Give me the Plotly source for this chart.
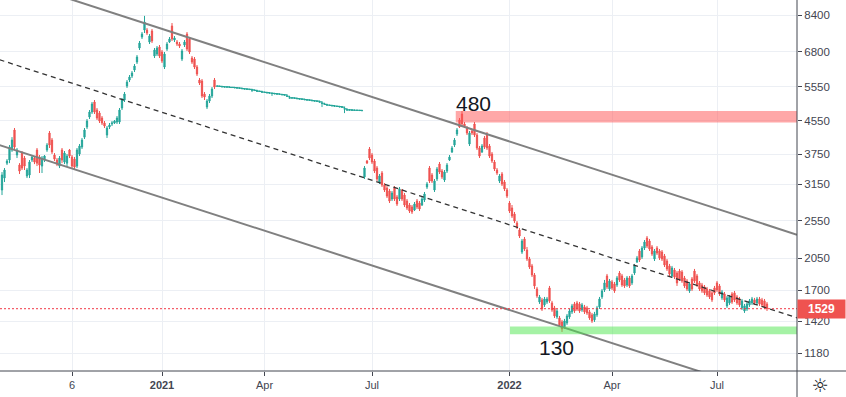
import math
import plotly.graph_objects as go

# ---------------- data ----------------
x_tick_pos = [28, 64, 105, 148, 203, 244, 286]
x_tick_text = ["6", "<b>2021</b>", "Apr", "Jul", "<b>2022</b>", "Apr", "Jul"]
y_ticks = [1180, 1420, 1700, 2050, 2550, 3150, 3750, 4550, 5550, 6800, 8400]

open_ = [
    3046, 3265, 3560, 3625, 3842, 4315, 3732, 3521, 3775, 3667,
    3304, 3323, 3625, 3667, 3842, 3690, 3500, 3625, 3842, 4240,
    4071, 3732, 3625, 3500, 3842, 3583, 3560, 3842, 3690, 3645,
    3500, 3754, 3910, 4140, 4390, 4653, 4790, 5077, 4846, 4762,
    4626, 4494, 4191, 4390, 4468, 4494, 4520, 4520, 4903, 5136,
    5571, 5768, 5904, 6113, 6403, 6946, 7404, 7711, 7711, 7192,
    7667, 6630, 6708, 6987, 6787, 6220, 6906, 7192, 7892, 7276,
    7192, 7109, 6516, 7068, 7533, 7318, 6554, 6516, 6220, 5768,
    5735, 5318, 4931, 5106, 5256, 5768,
    5566, 5556, 5546, 5541, 5536, 5526, 5521, 5516, 5506, 5496,
    5486, 5476, 5466, 5456, 5441, 5426, 5406, 5396, 5376, 5366,
    5356, 5346, 5336, 5326, 5316, 5306, 5296, 5286, 5246, 5196,
    5196, 5186, 5176, 5166, 5156, 5146, 5136, 5126, 5116, 5106,
    5096, 5076, 5036, 5006, 4986, 4976, 4966, 4956, 4946, 4936,
    4926, 4876, 4846, 4846, 4841, 4836, 4836, 4831, 4826,
    3285, 3604, 3864, 3732, 3604, 3461, 3191, 3362, 3135, 3081,
    3028, 2891, 3081, 2924, 2891, 3046, 2958, 2857, 2792, 2760,
    2712, 2857, 2824, 2792, 2874, 3099, 3461, 3323, 3046, 3247,
    3542, 3401, 3228, 3401, 3625, 3798, 3955, 4216, 4573, 4735,
    4468, 4365, 3978, 4290, 4468, 4191, 3887, 3798, 4119, 4216,
    3932, 3754, 3583, 3421, 3209, 3342, 3191, 3046, 2824, 2744,
    2650, 2515, 2415, 2125, 2292, 2150, 2041, 1960, 1860, 1715,
    1590, 1609, 1563, 1590, 1725, 1581, 1536, 1458, 1449, 1416,
    1376, 1408, 1458, 1501, 1572, 1581, 1572, 1518, 1545, 1536,
    1501, 1475, 1433, 1475, 1545, 1637, 1705, 1849, 1715, 1786,
    1765, 1755, 1881, 1849, 1807, 1755, 1828, 1776, 1881, 2006,
    2138, 2065, 2175, 2305, 2265, 2188, 2041, 2175, 2138, 2125,
    2077, 2017, 1960, 1849, 1914, 1881, 1903, 1892, 1828, 1796,
    1695, 1817, 1903, 1849, 1776, 1755, 1735, 1715, 1695, 1676,
    1725, 1776, 1745, 1628, 1666, 1554, 1581, 1666, 1676, 1637,
    1618, 1536, 1509, 1527, 1563, 1581, 1609, 1581, 1618, 1609,
    1600, 1572,
]

high = [
    3380, 3460, 3645, 3955, 4140, 4365, 3887, 3560, 3820, 3710,
    3460, 3625, 3732, 3690, 3887, 3732, 3710, 3732, 4000, 4290,
    4120, 3775, 3667, 3710, 3887, 3820, 3754, 3865, 3732, 3690,
    3887, 3978, 4120, 4365, 4600, 4846, 5077, 5136, 4903, 4818,
    4680, 4546, 4416, 4494, 4546, 4573, 4680, 4903, 5196, 5380,
    5768, 5938, 6078, 6330, 6669, 7235, 7622, 8370, 7800, 7533,
    7756, 6946, 7027, 7068, 6866, 6787, 7192, 7404, 8030, 7447,
    7276, 7192, 6906, 7276, 7622, 7404, 6630, 6592, 6293, 5835,
    5802, 5380, 5166, 5318, 5538, 5835,
    5572, 5562, 5552, 5547, 5542, 5532, 5527, 5522, 5512, 5502,
    5492, 5482, 5472, 5462, 5447, 5432, 5412, 5402, 5382, 5372,
    5362, 5352, 5342, 5332, 5322, 5312, 5302, 5292, 5252, 5202,
    5202, 5192, 5182, 5172, 5162, 5152, 5142, 5132, 5122, 5112,
    5102, 5082, 5042, 5012, 4992, 4982, 4972, 4962, 4952, 4942,
    4932, 4882, 4852, 4852, 4847, 4842, 4842, 4837, 4832,
    3501, 3625, 3909, 3776, 3646, 3501, 3342, 3401, 3172, 3117,
    3064, 3028, 3117, 2958, 3099, 3064, 2993, 2891, 2824, 2792,
    2841, 2891, 2857, 2924, 3011, 3191, 3501, 3362, 3247, 3481,
    3583, 3441, 3421, 3563, 3732, 3932, 4119, 4365, 4626, 4818,
    4520, 4416, 4290, 4340, 4520, 4240, 3932, 3978, 4167, 4265,
    3978, 3798, 3625, 3461, 3342, 3381, 3228, 3081, 2857, 2792,
    2681, 2544, 2443, 2292, 2319, 2188, 2065, 1983, 1881, 1735,
    1656, 1628, 1637, 1637, 1745, 1600, 1554, 1527, 1466, 1433,
    1441, 1483, 1527, 1572, 1590, 1600, 1590, 1581, 1563, 1554,
    1518, 1492, 1501, 1554, 1637, 1715, 1807, 1871, 1817, 1807,
    1786, 1849, 1903, 1871, 1828, 1849, 1849, 1871, 1983, 2077,
    2162, 2200, 2278, 2332, 2292, 2213, 2162, 2200, 2162, 2150,
    2101, 2041, 1983, 1960, 1937, 1903, 1926, 1914, 1849, 1817,
    1786, 1838, 1926, 1871, 1796, 1776, 1755, 1735, 1715, 1695,
    1745, 1796, 1765, 1705, 1685, 1647, 1656, 1685, 1695, 1656,
    1637, 1618, 1572, 1590, 1618, 1637, 1628, 1637, 1637, 1628,
    1618, 1590,
]

low = [
    2958, 3190, 3521, 3560, 3800, 3842, 3667, 3342, 3421, 3421,
    3265, 3265, 3583, 3540, 3500, 3362, 3362, 3583, 3800, 3887,
    3754, 3605, 3500, 3460, 3560, 3540, 3480, 3667, 3460, 3440,
    3460, 3710, 3865, 4095, 4340, 4600, 4735, 4735, 4573, 4494,
    4442, 4365, 4120, 4340, 4416, 4468, 4468, 4468, 4846, 5077,
    5506, 5700, 5835, 6042, 6330, 6866, 7318, 7578, 7490, 7109,
    7150, 6554, 6630, 6554, 6366, 6148, 6826, 7150, 7235, 7192,
    7027, 6946, 6440, 6987, 6826, 6708, 6330, 6148, 5904, 5603,
    5196, 5136, 4874, 5047, 5196, 5474,
    5566, 5556, 5546, 5541, 5536, 5526, 5521, 5516, 5506, 5496,
    5486, 5476, 5466, 5456, 5380, 5426, 5406, 5396, 5376, 5366,
    5356, 5346, 5260, 5326, 5316, 5306, 5296, 5286, 5246, 5196,
    5196, 5186, 5176, 5166, 5156, 5146, 5136, 5126, 5116, 5106,
    5096, 5076, 4930, 5006, 4986, 4976, 4966, 4956, 4946, 4936,
    4926, 4760, 4846, 4846, 4841, 4836, 4836, 4831, 4826,
    3247, 3542, 3625, 3542, 3362, 3209, 3154, 3099, 3011, 2907,
    2824, 2857, 2857, 2776, 2857, 2857, 2760, 2712, 2665, 2650,
    2696, 2728, 2696, 2776, 2841, 3064, 3172, 3172, 3011, 3209,
    3342, 3247, 3191, 3362, 3604, 3776, 3909, 4167, 4365, 4416,
    4365, 4191, 3932, 4191, 4143, 3842, 3668, 3776, 3864, 3842,
    3668, 3563, 3401, 3323, 3172, 3117, 3028, 2907, 2665, 2589,
    2515, 2429, 2305, 2101, 2138, 2017, 1926, 1838, 1715, 1628,
    1572, 1509, 1545, 1572, 1581, 1501, 1449, 1441, 1376, 1336,
    1360, 1392, 1441, 1483, 1492, 1509, 1492, 1501, 1483, 1475,
    1433, 1408, 1416, 1458, 1527, 1618, 1685, 1715, 1695, 1705,
    1676, 1735, 1786, 1735, 1725, 1735, 1725, 1755, 1860, 1994,
    2006, 2041, 2150, 2175, 2138, 2077, 2017, 2089, 2029, 2017,
    1948, 1903, 1849, 1828, 1817, 1745, 1796, 1776, 1725, 1695,
    1676, 1695, 1776, 1735, 1695, 1676, 1656, 1637, 1618, 1590,
    1656, 1685, 1647, 1609, 1590, 1536, 1563, 1572, 1590, 1563,
    1545, 1518, 1492, 1509, 1545, 1563, 1563, 1563, 1554, 1545,
    1527, 1509,
]

close = [
    3323, 3421, 3605, 3910, 4071, 3910, 3842, 3400, 3460, 3500,
    3421, 3583, 3690, 3583, 3560, 3521, 3667, 3710, 3955, 3955,
    3800, 3645, 3540, 3667, 3625, 3775, 3710, 3710, 3500, 3480,
    3842, 3932, 4071, 4315, 4546, 4790, 5018, 4790, 4626, 4546,
    4494, 4416, 4365, 4442, 4494, 4546, 4626, 4846, 5136, 5318,
    5700, 5870, 6008, 6256, 6592, 7150, 7533, 8078, 7578, 7447,
    7235, 6866, 6946, 6630, 6440, 6708, 7109, 7318, 7318, 7361,
    7109, 7027, 6826, 7192, 6906, 6787, 6403, 6220, 5973, 5668,
    5256, 5226, 5106, 5256, 5474, 5538,
    5570, 5560, 5550, 5545, 5540, 5530, 5525, 5520, 5510, 5500,
    5490, 5480, 5470, 5460, 5445, 5430, 5410, 5400, 5380, 5370,
    5360, 5350, 5340, 5330, 5320, 5310, 5300, 5290, 5250, 5200,
    5200, 5190, 5180, 5170, 5160, 5150, 5140, 5130, 5120, 5110,
    5100, 5080, 5040, 5010, 4990, 4980, 4970, 4960, 4950, 4940,
    4930, 4880, 4850, 4850, 4845, 4840, 4840, 4835, 4830,
    3461, 3563, 3668, 3583, 3401, 3247, 3304, 3135, 3046, 2941,
    2857, 2993, 2891, 2808, 3064, 2891, 2792, 2744, 2696, 2681,
    2808, 2760, 2728, 2891, 2976, 3154, 3209, 3209, 3209, 3441,
    3381, 3285, 3381, 3521, 3689, 3887, 4071, 4315, 4391, 4468,
    4416, 4240, 4240, 4240, 4191, 3887, 3710, 3932, 3909, 3887,
    3710, 3604, 3441, 3362, 3304, 3154, 3064, 2941, 2696, 2619,
    2544, 2457, 2332, 2265, 2162, 2041, 1948, 1860, 1745, 1647,
    1637, 1527, 1618, 1618, 1600, 1518, 1466, 1509, 1392, 1360,
    1424, 1466, 1509, 1554, 1509, 1527, 1509, 1563, 1501, 1492,
    1449, 1424, 1483, 1536, 1618, 1695, 1776, 1735, 1796, 1725,
    1695, 1828, 1807, 1755, 1745, 1828, 1745, 1849, 1960, 2053,
    2029, 2175, 2252, 2200, 2162, 2101, 2138, 2113, 2053, 2041,
    1971, 1926, 1871, 1937, 1838, 1776, 1817, 1796, 1745, 1715,
    1765, 1715, 1796, 1755, 1715, 1695, 1676, 1656, 1637, 1609,
    1676, 1705, 1666, 1685, 1609, 1628, 1637, 1590, 1609, 1581,
    1563, 1600, 1554, 1572, 1600, 1618, 1581, 1618, 1572, 1563,
    1545, 1529,
]

bars = list(range(len(close)))
thin_segment = [86, 145]   # bars of the thin, almost untraded stretch

# trend channel (bar index, price)
channel_x = [-1, 318]
upper_channel = [10540, 2350]
mid_channel = [6490, 1450]
lower_channel = [3955, 885]

# horizontal zones (bar start, price low, price high)
resist_zone = [181.5, 4510, 4820]
support_zone = [203.2, 1318, 1378]
peak_label = ["480", 188.4, 5047]
trough_label = ["130", 221.6, 1218]

y_min, y_max = 1065, 9179
x_min, x_max = -0.8, 318

# ---------------- figure ----------------
UP, DOWN = "#26a69a", "#ef5350"
AXC = "#434651"
FONT = "Liberation Sans, Arial, sans-serif"

fig = go.Figure()
fig.add_trace(go.Candlestick(
    x=bars, open=open_, high=high, low=low, close=close,
    increasing=dict(line=dict(color=UP, width=1), fillcolor=UP),
    decreasing=dict(line=dict(color=DOWN, width=1), fillcolor=DOWN),
    whiskerwidth=0, showlegend=False, hoverinfo="skip",
))

s0, s1 = thin_segment
fig.add_trace(go.Scatter(x=bars[s0:s1], y=close[s0:s1], mode="lines",
                         line=dict(color=UP, width=1.2, shape="hv"),
                         showlegend=False, hoverinfo="skip"))

for ys, col, dash, w in [(upper_channel, "#808080", "solid", 2),
                         (lower_channel, "#808080", "solid", 2),
                         (mid_channel, "#333333", "5px,4px", 1.3)]:
    fig.add_trace(go.Scatter(x=channel_x, y=ys, mode="lines",
                             line=dict(color=col, width=w, dash=dash),
                             showlegend=False, hoverinfo="skip"))

shapes = [
    dict(type="rect", xref="x", yref="y", x0=resist_zone[0], x1=x_max,
         y0=resist_zone[1], y1=resist_zone[2],
         fillcolor="rgba(255,82,82,0.5)", line=dict(width=0), layer="above"),
    dict(type="rect", xref="x", yref="y", x0=support_zone[0], x1=x_max,
         y0=support_zone[1], y1=support_zone[2],
         fillcolor="rgba(76,230,76,0.5)", line=dict(width=0), layer="above"),
    # last price line
    dict(type="line", xref="paper", yref="y", x0=0, x1=1,
         y0=close[-1], y1=close[-1],
         line=dict(color="#f23645", width=1, dash="2px,2px")),
    # axis frame lines
    dict(type="line", xref="paper", yref="paper", x0=0, x1=846 / 797,
         y0=0, y1=0, line=dict(color=AXC, width=1)),
    dict(type="line", xref="paper", yref="paper", x0=1, x1=1,
         y0=-26 / 371, y1=1, line=dict(color=AXC, width=1)),
]

annotations = [
    dict(x=peak_label[1], y=math.log10(peak_label[2]), xref="x", yref="y",
         text=peak_label[0], showarrow=False,
         font=dict(family=FONT, size=21, color="#131722")),
    dict(x=trough_label[1], y=math.log10(trough_label[2]), xref="x", yref="y",
         text=trough_label[0], showarrow=False,
         font=dict(family=FONT, size=21, color="#131722")),
    dict(x=1, xref="paper", xanchor="left", y=math.log10(close[-1]), yref="y",
         text="<b>%d</b>" % close[-1], showarrow=False, width=47, height=18,
         borderpad=0, bgcolor="#ef5350", align="center",
         font=dict(family=FONT, size=12, color="white")),
    dict(x=1 + 14 / 797, xref="paper", xanchor="left",
         y=-14 / 371, yref="paper", yanchor="middle",
         text="☼", showarrow=False, width=16, height=16, borderpad=0,
         font=dict(family="DejaVu Sans", size=19, color="#131722")),
]

fig.update_layout(
    width=846, height=397,
    margin=dict(l=0, r=49, t=0, b=26),
    paper_bgcolor="white", plot_bgcolor="white",
    shapes=shapes, annotations=annotations,
    font=dict(family=FONT, size=11, color=AXC),
    xaxis=dict(range=[x_min, x_max], tickvals=x_tick_pos, ticktext=x_tick_text,
               showgrid=True, gridcolor="#eceff4", gridwidth=1,
               zeroline=False, showline=False, ticks="outside", ticklen=4,
               tickcolor=AXC, rangeslider=dict(visible=False),
               tickfont=dict(family=FONT, size=11, color=AXC)),
    yaxis=dict(type="log", range=[math.log10(y_min), math.log10(y_max)],
               side="right", tickvals=y_ticks,
               ticktext=[str(v) for v in y_ticks],
               showgrid=True, gridcolor="#eceff4", gridwidth=1,
               zeroline=False, showline=False, ticks="outside", ticklen=4,
               tickcolor=AXC, tickfont=dict(family=FONT, size=11.5, color=AXC)),
)

fig.write_html("out.html",
               config={"displayModeBar": False},
               post_script="document.body.style.margin='0';"
                           "document.body.style.overflow='hidden';")
